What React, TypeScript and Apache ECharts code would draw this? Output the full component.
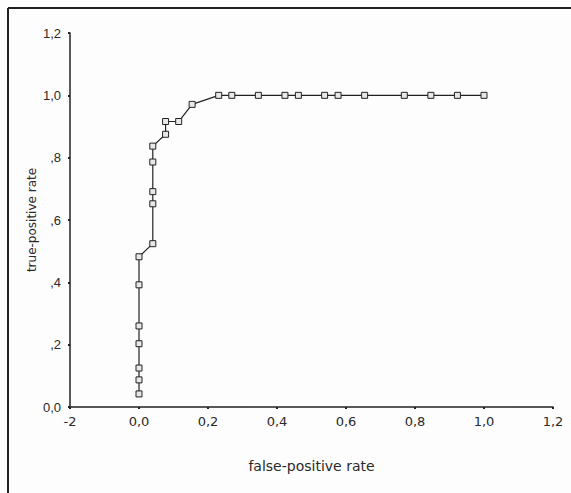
import React, { useEffect, useRef } from "react";
import * as echarts from "echarts";

const fpr = [0, 0, 0, 0, 0, 0, 0, 0.04, 0.04, 0.04, 0.04, 0.04, 0.077, 0.077, 0.115, 0.154, 0.231, 0.269, 0.346, 0.423, 0.462, 0.538, 0.577, 0.654, 0.769, 0.846, 0.923, 1.0];
const tpr = [0.042, 0.087, 0.125, 0.203, 0.26, 0.392, 0.482, 0.524, 0.652, 0.691, 0.786, 0.837, 0.875, 0.916, 0.916, 0.971, 1.0, 1.0, 1.0, 1.0, 1.0, 1.0, 1.0, 1.0, 1.0, 1.0, 1.0, 1.0];
const xTickLabels: Record<string, string> = { "-0.2": "-2", "0": "0,0", "0.2": "0,2", "0.4": "0,4", "0.6": "0,6", "0.8": "0,8", "1": "1,0", "1.2": "1,2" };
const yTickLabels: Record<string, string> = { "0": "0,0", "0.2": ",2", "0.4": ",4", "0.6": ",6", "0.8": ",8", "1": "1,0", "1.2": "1,2" };
const xName = "false-positive rate";
const yName = "true-positive rate";

export default function App() {
  const ref = useRef<HTMLDivElement>(null);
  useEffect(() => {
    if (!ref.current) return;
    const chart = echarts.init(ref.current, null, { renderer: "svg" });
    const font = "'Liberation Sans', Arial, sans-serif";
    const wide = "'DejaVu Sans', sans-serif";
    const txt = "#2a2a2a";
    chart.setOption({
      animation: false,
      backgroundColor: "#fdfdfd",
      textStyle: { fontFamily: font },
      grid: { left: 70, right: 18, top: 33, bottom: 86, containLabel: false },
      xAxis: {
        type: "value",
        min: -0.2,
        max: 1.2,
        interval: 0.2,
        name: xName,
        nameLocation: "middle",
        nameGap: 52,
        nameMoveOverlap: false,
        nameTextStyle: { color: txt, fontSize: 14, fontFamily: wide },
        splitLine: { show: false },
        axisLine: { show: true, onZero: false, lineStyle: { color: "#222", width: 1.5 } },
        axisTick: { show: true, length: 2, lineStyle: { color: "#222", width: 2 } },
        axisLabel: {
          color: txt,
          fontSize: 13,
          margin: 8,
          fontFamily: wide,
          formatter: (v: number) => xTickLabels[String(Math.round(v * 10) / 10)] ?? "",
        },
      },
      yAxis: {
        type: "value",
        min: 0,
        max: 1.2,
        interval: 0.2,
        name: yName,
        nameLocation: "middle",
        nameGap: 32,
        nameMoveOverlap: false,
        nameTextStyle: { color: txt, fontSize: 12, fontFamily: wide },
        splitLine: { show: false },
        axisLine: { show: true, onZero: false, lineStyle: { color: "#222", width: 1.5 } },
        axisTick: { show: true, length: 2, lineStyle: { color: "#222", width: 2 } },
        axisLabel: {
          color: txt,
          fontSize: 13,
          margin: 9,
          fontFamily: font,
          formatter: (v: number) => yTickLabels[String(Math.round(v * 10) / 10)] ?? "",
        },
      },
      graphic: [
        { type: "line", shape: { x1: 8, y1: 8, x2: 571, y2: 8 }, style: { stroke: "#222", lineWidth: 2 } },
        { type: "line", shape: { x1: 8, y1: 8, x2: 8, y2: 493 }, style: { stroke: "#222", lineWidth: 2 } },
      ],
      series: [
        {
          type: "line",
          data: fpr.map((x, i) => [x, tpr[i]]),
          symbol: "rect",
          symbolSize: 6,
          showSymbol: true,
          itemStyle: { color: "#e8e8e8", borderColor: "#222", borderWidth: 1 },
          lineStyle: { color: "#222", width: 1.2 },
        },
      ],
    });
    return () => chart.dispose();
  }, []);
  return <div ref={ref} style={{ width: 571, height: 493, position: "absolute", left: 0, top: 0 }} />;
}
